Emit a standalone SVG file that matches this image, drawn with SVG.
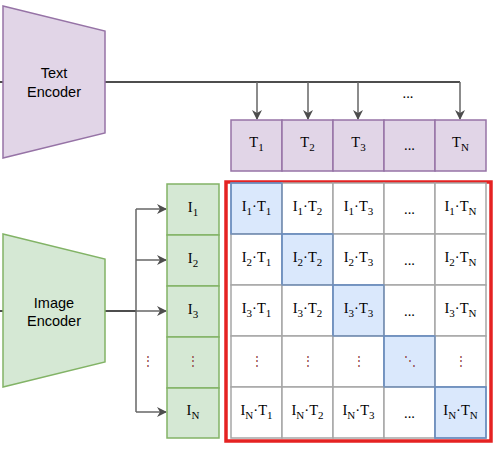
<svg xmlns="http://www.w3.org/2000/svg" width="497" height="452" viewBox="0 0 497 452">
<style>
.enc{font-family:"Liberation Sans",Arial,sans-serif;font-size:14.5px;text-anchor:middle;fill:#000}
.m{font-family:"Liberation Serif","Times New Roman",serif;font-size:14.5px;text-anchor:middle;fill:#000}
.s{font-size:11px}
.tb{fill:#e1d5e7;stroke:#9673a6;stroke-width:1.5}
.ib{fill:#d5e8d4;stroke:#82b366;stroke-width:1.5}
.c{fill:#ffffff;stroke:#a6a6a6;stroke-width:1.5}
.d{fill:#dae8fc;stroke:#6c8ebf;stroke-width:1.5}
.ln{fill:none;stroke:#666;stroke-width:1.5}
.main{fill:none;stroke:#4d4d4d;stroke-width:2}
.dots{fill:#8b3a3a;font-size:12px}
</style>
<defs>
<marker id="ah" viewBox="0 0 10 10" refX="9" refY="5" markerWidth="10" markerHeight="10" markerUnits="userSpaceOnUse" orient="auto">
<path d="M0,0 L10,5 L0,10 L3,5 Z" fill="#4d4d4d"/>
</marker>
</defs>
<g id="connectors">
<line class="main" x1="0" y1="82" x2="3" y2="82"/>
<line class="main" x1="0" y1="311" x2="3" y2="311"/>
<path class="main" d="M105,82 H460"/>
<path class="ln" d="M257,82 V119" marker-end="url(#ah)"/>
<path class="ln" d="M308,82 V119" marker-end="url(#ah)"/>
<path class="ln" d="M358,82 V119" marker-end="url(#ah)"/>
<path class="ln" d="M460,82 V119" marker-end="url(#ah)"/>
<path class="main" d="M105,311 H136"/>
<path class="ln" d="M136,209 V412"/>
<path class="ln" d="M136,209 H166" marker-end="url(#ah)"/>
<path class="ln" d="M136,260 H166" marker-end="url(#ah)"/>
<path class="ln" d="M136,311 H166" marker-end="url(#ah)"/>
<path class="ln" d="M136,412 H166" marker-end="url(#ah)"/>
<text class="m dots" x="148" y="365">⋮</text>
<text class="m" x="408" y="98" font-size="11">...</text>
</g>
<g id="text-encoder">
<polygon points="3,6 105,31 105,133 3,158" fill="#e1d5e7" stroke="#9673a6" stroke-width="1.5"/>
<text class="enc" x="54" y="78">Text</text>
<text class="enc" x="54" y="97">Encoder</text>
</g>
<g id="image-encoder">
<polygon points="3,234 105,259 105,362 3,387" fill="#d5e8d4" stroke="#82b366" stroke-width="1.5"/>
<text class="enc" x="54" y="308">Image</text>
<text class="enc" x="54" y="326">Encoder</text>
</g>
<g id="text-tokens">
<rect class="tb" x="231" y="120" width="51" height="51"/>
<rect class="tb" x="282" y="120" width="51" height="51"/>
<rect class="tb" x="333" y="120" width="51" height="51"/>
<rect class="tb" x="384" y="120" width="51" height="51"/>
<rect class="tb" x="435" y="120" width="51" height="51"/>
<text class="m" x="256.5" y="147">T<tspan class="s" dy="4">1</tspan></text>
<text class="m" x="307.5" y="147">T<tspan class="s" dy="4">2</tspan></text>
<text class="m" x="358.5" y="147">T<tspan class="s" dy="4">3</tspan></text>
<text class="m" x="409.5" y="150" font-size="11">...</text>
<text class="m" x="460.5" y="147">T<tspan class="s" dy="4">N</tspan></text>
</g>
<g id="image-tokens">
<rect class="ib" x="167" y="184" width="52" height="51"/>
<rect class="ib" x="167" y="235" width="52" height="51"/>
<rect class="ib" x="167" y="286" width="52" height="51"/>
<rect class="ib" x="167" y="337" width="52" height="51"/>
<rect class="ib" x="167" y="388" width="52" height="50"/>
<text class="m" x="193" y="212">I<tspan class="s" dy="4">1</tspan></text>
<text class="m" x="193" y="263">I<tspan class="s" dy="4">2</tspan></text>
<text class="m" x="193" y="314">I<tspan class="s" dy="4">3</tspan></text>
<text class="m dots" x="193" y="365">⋮</text>
<text class="m" x="193" y="415">I<tspan class="s" dy="4">N</tspan></text>
</g>
<g id="matrix">
<rect x="226" y="182" width="265" height="259" fill="none" stroke="#e52222" stroke-width="3.5"/>
<rect class="d" x="231" y="183" width="51" height="51"/>
<rect class="c" x="282" y="183" width="51" height="51"/>
<rect class="c" x="333" y="183" width="51" height="51"/>
<rect class="c" x="384" y="183" width="51" height="51"/>
<rect class="c" x="435" y="183" width="51" height="51"/>
<rect class="c" x="231" y="234" width="51" height="51"/>
<rect class="d" x="282" y="234" width="51" height="51"/>
<rect class="c" x="333" y="234" width="51" height="51"/>
<rect class="c" x="384" y="234" width="51" height="51"/>
<rect class="c" x="435" y="234" width="51" height="51"/>
<rect class="c" x="231" y="285" width="51" height="51"/>
<rect class="c" x="282" y="285" width="51" height="51"/>
<rect class="d" x="333" y="285" width="51" height="51"/>
<rect class="c" x="384" y="285" width="51" height="51"/>
<rect class="c" x="435" y="285" width="51" height="51"/>
<rect class="c" x="231" y="336" width="51" height="51"/>
<rect class="c" x="282" y="336" width="51" height="51"/>
<rect class="c" x="333" y="336" width="51" height="51"/>
<rect class="d" x="384" y="336" width="51" height="51"/>
<rect class="c" x="435" y="336" width="51" height="51"/>
<rect class="c" x="231" y="387" width="51" height="51"/>
<rect class="c" x="282" y="387" width="51" height="51"/>
<rect class="c" x="333" y="387" width="51" height="51"/>
<rect class="c" x="384" y="387" width="51" height="51"/>
<rect class="d" x="435" y="387" width="51" height="51"/>
<rect x="231" y="183" width="51" height="51" fill="none" stroke="#6c8ebf" stroke-width="1.2"/>
<rect x="282" y="234" width="51" height="51" fill="none" stroke="#6c8ebf" stroke-width="1.2"/>
<rect x="333" y="285" width="51" height="51" fill="none" stroke="#6c8ebf" stroke-width="1.2"/>
<rect x="384" y="336" width="51" height="51" fill="none" stroke="#6c8ebf" stroke-width="1.2"/>
<rect x="435" y="387" width="51" height="51" fill="none" stroke="#6c8ebf" stroke-width="1.2"/>
<text class="m" x="256.5" y="211">I<tspan class="s" dy="4">1</tspan><tspan dy="-4">·T</tspan><tspan class="s" dy="4">1</tspan></text>
<text class="m" x="307.5" y="211">I<tspan class="s" dy="4">1</tspan><tspan dy="-4">·T</tspan><tspan class="s" dy="4">2</tspan></text>
<text class="m" x="358.5" y="211">I<tspan class="s" dy="4">1</tspan><tspan dy="-4">·T</tspan><tspan class="s" dy="4">3</tspan></text>
<text class="m" x="409.5" y="214" font-size="11">...</text>
<text class="m" x="460.5" y="211">I<tspan class="s" dy="4">1</tspan><tspan dy="-4">·T</tspan><tspan class="s" dy="4">N</tspan></text>
<text class="m" x="256.5" y="262">I<tspan class="s" dy="4">2</tspan><tspan dy="-4">·T</tspan><tspan class="s" dy="4">1</tspan></text>
<text class="m" x="307.5" y="262">I<tspan class="s" dy="4">2</tspan><tspan dy="-4">·T</tspan><tspan class="s" dy="4">2</tspan></text>
<text class="m" x="358.5" y="262">I<tspan class="s" dy="4">2</tspan><tspan dy="-4">·T</tspan><tspan class="s" dy="4">3</tspan></text>
<text class="m" x="409.5" y="265" font-size="11">...</text>
<text class="m" x="460.5" y="262">I<tspan class="s" dy="4">2</tspan><tspan dy="-4">·T</tspan><tspan class="s" dy="4">N</tspan></text>
<text class="m" x="256.5" y="313">I<tspan class="s" dy="4">3</tspan><tspan dy="-4">·T</tspan><tspan class="s" dy="4">1</tspan></text>
<text class="m" x="307.5" y="313">I<tspan class="s" dy="4">3</tspan><tspan dy="-4">·T</tspan><tspan class="s" dy="4">2</tspan></text>
<text class="m" x="358.5" y="313">I<tspan class="s" dy="4">3</tspan><tspan dy="-4">·T</tspan><tspan class="s" dy="4">3</tspan></text>
<text class="m" x="409.5" y="316" font-size="11">...</text>
<text class="m" x="460.5" y="313">I<tspan class="s" dy="4">3</tspan><tspan dy="-4">·T</tspan><tspan class="s" dy="4">N</tspan></text>
<text class="m dots" x="256.5" y="365">⋮</text>
<text class="m dots" x="307.5" y="365">⋮</text>
<text class="m dots" x="358.5" y="365">⋮</text>
<text class="m dots" x="409.5" y="365">⋱</text>
<text class="m dots" x="460.5" y="365">⋮</text>
<text class="m" x="256.5" y="415">I<tspan class="s" dy="4">N</tspan><tspan dy="-4">·T</tspan><tspan class="s" dy="4">1</tspan></text>
<text class="m" x="307.5" y="415">I<tspan class="s" dy="4">N</tspan><tspan dy="-4">·T</tspan><tspan class="s" dy="4">2</tspan></text>
<text class="m" x="358.5" y="415">I<tspan class="s" dy="4">N</tspan><tspan dy="-4">·T</tspan><tspan class="s" dy="4">3</tspan></text>
<text class="m" x="409.5" y="418" font-size="11">...</text>
<text class="m" x="460.5" y="415">I<tspan class="s" dy="4">N</tspan><tspan dy="-4">·T</tspan><tspan class="s" dy="4">N</tspan></text>
</g>
</svg>
